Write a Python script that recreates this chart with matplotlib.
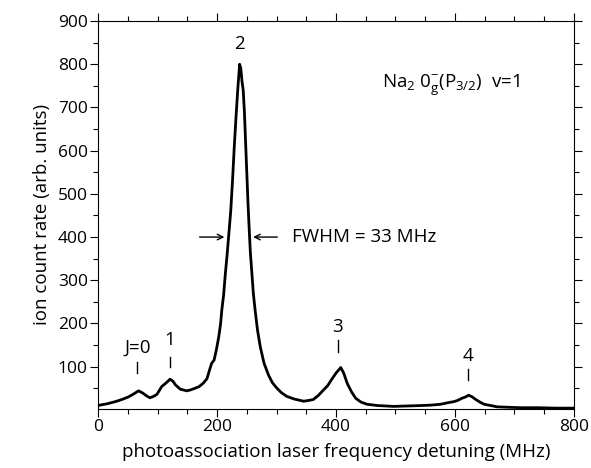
import matplotlib
matplotlib.use("Agg")
import matplotlib.pyplot as plt
from matplotlib.ticker import MultipleLocator

plt.rcParams['font.family'] = ['Open Sans', 'DejaVu Sans']
plt.rcParams['mathtext.fontset'] = 'custom'
plt.rcParams['mathtext.rm'] = 'Open Sans'
plt.rcParams['mathtext.it'] = 'Open Sans'

# spectrum (detuning in MHz, ion count rate)
detuning = [0, 3, 15, 29, 40, 51, 60, 68, 75, 82, 87, 93, 99, 107, 114, 121,
            126, 130, 138, 149, 155, 163, 170, 177, 183, 188, 191, 195, 199,
            203, 206, 208, 211, 214, 217, 220, 223, 226, 229, 232, 235, 238,
            240, 242, 244, 246, 248, 250, 252, 254, 256, 258.6, 261, 264, 268,
            272.7, 279, 286.7, 293, 300.8, 308, 317.6, 330, 345.6, 355, 362,
            370, 379, 386, 393, 400, 408, 413, 419, 426, 433, 442, 452, 470,
            497, 520, 543, 560, 576, 590, 598, 605, 612, 618, 623, 629, 635,
            642, 649, 660, 671, 690, 710, 740, 770, 800]
counts = [10, 11, 14, 19, 24, 30, 37, 44, 39, 32, 28, 31, 36, 54, 62, 71,
          66, 58, 48, 44, 46, 50, 54, 62, 72, 95, 108, 115, 140,
          170, 200, 231, 265, 316, 360, 410, 460, 530, 610, 680, 745, 800,
          790, 760, 740, 690, 620, 550, 480, 420, 365, 316, 270, 231, 185,
          146, 108, 80, 63, 50, 40, 31, 25, 20, 22, 24,
          33, 46, 56, 71, 85, 98, 85, 61, 42, 27, 18, 13, 10,
          8, 9, 10, 11, 13, 17, 19, 22, 27, 30, 34, 30, 24,
          18, 13, 10, 7, 6, 5, 5, 4, 4]

# rotational lines
line_labels = ['J=0', '1', '2', '3', '4']
line_pos = [66, 121, 238, 403, 622]

fig = plt.figure(figsize=(5.91, 4.68), dpi=100)
ax = fig.add_axes([0.166, 0.127, 0.805, 0.828])

ax.plot(detuning, counts, color='black', lw=2.0)

ax.set_xlim(0, 800)
ax.set_ylim(3, 900)
ax.xaxis.set_major_locator(MultipleLocator(200))
ax.xaxis.set_minor_locator(MultipleLocator(50))
ax.yaxis.set_major_locator(MultipleLocator(100))
ax.yaxis.set_minor_locator(MultipleLocator(50))
ax.set_yticks([100, 200, 300, 400, 500, 600, 700, 800, 900])
ax.tick_params(which='both', direction='out', top=True, right=True, width=0.8,
               labelsize=12.5, pad=2)
ax.tick_params(which='major', length=5.5)
ax.tick_params(which='minor', length=3.5)
for s in ax.spines.values():
    s.set_linewidth(0.8)

ax.set_xlabel('photoassociation laser frequency detuning (MHz)', fontsize=13.5,
              labelpad=6)
ax.set_ylabel('ion count rate (arb. units)', fontsize=13.5, labelpad=5)

# label text heights and marker spans
text_y = [143, 162, 847, 191, 125]
mark_lo = [86, 100, None, 135, 68]
mark_hi = [111, 123, None, 162, 94]
for lab, xp, ty, lo, hi in zip(line_labels, line_pos, text_y, mark_lo, mark_hi):
    ax.text(xp, ty, lab, ha='center', va='center', fontsize=13.5)
    if lo is not None:
        ax.plot([xp, xp], [lo, hi], color='black', lw=1.0)

# FWHM arrows
ax.annotate('', xy=(217, 400), xytext=(166, 400),
            arrowprops=dict(arrowstyle='->', color='black', lw=1.0))
ax.annotate('', xy=(256, 400), xytext=(306, 400),
            arrowprops=dict(arrowstyle='->', color='black', lw=1.0))
ax.text(326, 400, 'FWHM = 33 MHz', ha='left', va='center', fontsize=13.5)

ax.text(478, 752, r'Na$_{2}$ 0$_{g}^{-}$(P$_{3/2}$)  v=1', ha='left',
        va='center', fontsize=13.5)

fig.savefig('out.png', dpi=100)
